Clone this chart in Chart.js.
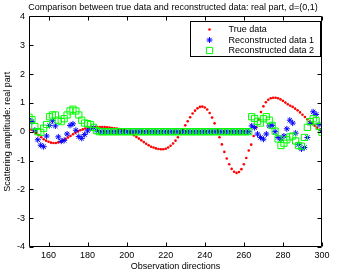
<!DOCTYPE html>
<html><head><meta charset="utf-8">
<script src="https://cdn.jsdelivr.net/npm/chart.js@4/dist/chart.umd.min.js"></script>
<style>html,body{margin:0;padding:0;background:#fff;}</style>
</head><body>
<canvas id="c" width="346" height="275"></canvas>
<script>
// ---- data ----
const titleText = 'Comparison between true data and reconstructed data: real part, d=(0,1)';
const xLabel = 'Observation directions';
const yLabel = 'Scattering amplitude: real part';
const seriesNames = ['True data', 'Reconstructed data 1', 'Reconstructed data 2'];
const xTicks = [160, 180, 200, 220, 240, 260, 280, 300];
const yTicks = [-4, -3, -2, -1, 0, 1, 2, 3, 4];

// true data: directions 150..300 step 1.25
const trueStart = 150, trueStep = 1.25;
const trueData = [
 0.12, 0.07, 0.01, -0.05, -0.12, -0.19, -0.26, -0.31, -0.35, -0.38,
 -0.39, -0.39, -0.37, -0.34, -0.30, -0.25, -0.20, -0.15, -0.09, -0.04,
 0.01, 0.05, 0.08, 0.11, 0.13, 0.14, 0.15, 0.16, 0.16, 0.16,
 0.16, 0.16, 0.15, 0.14, 0.13, 0.12, 0.11, 0.09, 0.07, 0.05,
 0.02, -0.02, -0.07, -0.12, -0.18, -0.24, -0.30, -0.36, -0.42, -0.47,
 -0.52, -0.55, -0.58, -0.60, -0.61, -0.61, -0.59, -0.55, -0.49, -0.41,
 -0.31, -0.19, -0.06, 0.08, 0.22, 0.36, 0.50, 0.63, 0.73, 0.81,
 0.86, 0.87, 0.84, 0.77, 0.65, 0.49, 0.29, 0.06, -0.19, -0.44,
 -0.70, -0.93, -1.13, -1.29, -1.39, -1.43, -1.40, -1.30, -1.13, -0.91,
 -0.65, -0.45, -0.15, 0.15, 0.42, 0.68, 0.88, 1.02, 1.11, 1.16,
 1.18, 1.18, 1.16, 1.12, 1.07, 1.01, 0.95, 0.90, 0.86, 0.80,
 0.74, 0.67, 0.59, 0.51, 0.43, 0.35, 0.28, 0.21, 0.14, 0.07,
 0.01
];

// reconstructed data: directions 150..300 step 1.5
const recStart = 150, recStep = 1.5;
const recon1 = [
 0.40, 0.35, 0.05, -0.28, -0.47, -0.52, -0.15, 0.22, 0.38, 0.20,
 -0.18, -0.33, -0.30, -0.08, 0.22, 0.27, 0.05, -0.17, -0.23, -0.10,
 0.03, 0.12, 0.14, 0.05, 0, 0, 0, 0, 0, 0,
 0, 0, 0, 0, 0, 0, 0, 0, 0, 0,
 0, 0, 0, 0, 0, 0, 0, 0, 0, 0,
 0, 0, 0, 0, 0, 0, 0, 0, 0, 0,
 0, 0, 0, 0, 0, 0, 0, 0, 0, 0,
 0, 0, 0, 0, 0, 0, 0.20, 0.14, -0.08, -0.20,
 -0.26, -0.08, 0.20, 0.22, 0.00, -0.20, -0.26, -0.15, 0.10, 0.40,
 0.30, -0.05, -0.45, -0.60, -0.55, -0.20, 0.29, 0.69, 0.60, 0.25,
 0.05
];
const recon2 = [
 0.50, 0.42, 0.18, 0.00, -0.02, 0.12, 0.25, 0.52, 0.58, 0.58,
 0.40, 0.35, 0.45, 0.58, 0.72, 0.78, 0.72, 0.58, 0.40, 0.30,
 0.28, 0.25, 0.15, 0.04, 0, 0, 0, 0, 0, 0,
 0, 0, 0, 0, 0, 0, 0, 0, 0, 0,
 0, 0, 0, 0, 0, 0, 0, 0, 0, 0,
 0, 0, 0, 0, 0, 0, 0, 0, 0, 0,
 0, 0, 0, 0, 0, 0, 0, 0, 0, 0,
 0, 0, 0, 0, 0, 0, 0.52, 0.46, 0.36, 0.30,
 0.45, 0.52, 0.40, 0.22, 0.02, -0.25, -0.48, -0.40, -0.28, -0.18,
 -0.15, -0.32, -0.48, -0.50, -0.20, 0.15, 0.35, 0.45, 0.38, 0.18,
 -0.02
];

// ---- build ----
const toPts = (arr, start, step) => arr.map((v, i) => ({ x: start + i * step, y: v }));
const FONT = 'Liberation Sans, Arial, Helvetica, sans-serif';
const f9 = { family: FONT, size: 9 };

const styles = [
  { pointStyle: 'circle', radius: 1.3, borderWidth: 0, borderColor: '#ff0000', backgroundColor: '#ff0000' },
  { pointStyle: 'star', radius: 3, borderWidth: 1, borderColor: '#0000ff', backgroundColor: '#0000ff' },
  { pointStyle: 'rect', radius: 4.4, borderWidth: 1, borderColor: '#00ff00', backgroundColor: 'rgba(0,0,0,0)' }
];

const frame = {
  id: 'frame',
  afterDatasetsDraw(chart) {
    const ctx = chart.ctx, a = chart.chartArea;
    const xs = chart.scales.x, ys = chart.scales.y;
    const L = Math.round(a.left) + 0.5, R = Math.round(a.right) - 0.5;
    const T = Math.round(a.top) + 0.5, B = Math.round(a.bottom) - 0.5;
    ctx.save();
    ctx.strokeStyle = '#000'; ctx.lineWidth = 1;
    ctx.beginPath();
    ctx.rect(L, T, R - L, B - T);
    const tl = 4;
    xTicks.forEach(v => {
      const px = Math.round(xs.getPixelForValue(v)) + 0.5;
      ctx.moveTo(px, B); ctx.lineTo(px, B - tl);
      ctx.moveTo(px, T); ctx.lineTo(px, T + tl);
    });
    yTicks.forEach(v => {
      const py = Math.round(ys.getPixelForValue(v)) + 0.5;
      ctx.moveTo(L, py); ctx.lineTo(L + tl, py);
      ctx.moveTo(R, py); ctx.lineTo(R - tl, py);
    });
    ctx.stroke();
    ctx.restore();
  },
  afterDraw(chart) {
    const ctx = chart.ctx, a = chart.chartArea;
    const bw = 130, bh = 35;
    const bx = Math.round(a.right) - 2 - bw + 0.5, by = Math.round(a.top) + 5 + 0.5;
    ctx.save();
    ctx.fillStyle = '#fff';
    ctx.fillRect(bx, by, bw, bh);
    ctx.strokeStyle = '#000'; ctx.lineWidth = 1;
    ctx.strokeRect(bx, by, bw, bh);
    ctx.font = '9px ' + FONT;
    ctx.textBaseline = 'middle';
    ctx.textAlign = 'left';
    seriesNames.forEach((name, i) => {
      const yy = by + 8 + i * 10.5;
      const s = styles[i];
      ctx.fillStyle = s.backgroundColor; ctx.strokeStyle = s.borderColor; ctx.lineWidth = s.borderWidth;
      Chart.helpers.drawPoint(ctx, { pointStyle: s.pointStyle, radius: s.radius, borderWidth: s.borderWidth, rotation: 0 }, bx + 19, yy);
      ctx.fillStyle = '#000';
      ctx.fillText(name, bx + 38, yy + 0.5);
    });
    ctx.restore();
  }
};

new Chart(document.getElementById('c'), {
  type: 'scatter',
  data: {
    datasets: [
      { label: seriesNames[0], data: toPts(trueData, trueStart, trueStep), order: 3,
        pointStyle: styles[0].pointStyle, pointRadius: styles[0].radius, pointBorderWidth: 0,
        borderColor: styles[0].borderColor, backgroundColor: styles[0].backgroundColor },
      { label: seriesNames[1], data: toPts(recon1, recStart, recStep), order: 2,
        pointStyle: styles[1].pointStyle, pointRadius: styles[1].radius, pointBorderWidth: 1,
        borderColor: styles[1].borderColor, backgroundColor: styles[1].backgroundColor },
      { label: seriesNames[2], data: toPts(recon2, recStart, recStep), order: 1,
        pointStyle: styles[2].pointStyle, pointRadius: styles[2].radius, pointBorderWidth: 1,
        borderColor: styles[2].borderColor, backgroundColor: styles[2].backgroundColor }
    ]
  },
  options: {
    responsive: false, animation: false, devicePixelRatio: 1,
    layout: { padding: 0 },
    elements: { point: { hoverRadius: 0 } },
    plugins: {
      legend: { display: false },
      tooltip: { enabled: false },
      title: { display: true, text: titleText, color: '#000', font: { family: FONT, size: 9, weight: 'normal' },
               padding: { top: 2, bottom: 3.6 } }
    },
    scales: {
      x: {
        type: 'linear', min: 150, max: 300,
        afterBuildTicks: s => { s.ticks = xTicks.map(v => ({ value: v })); },
        afterFit: s => { s.height = 28; },
        grid: { display: false, drawTicks: false },
        border: { display: false },
        ticks: { autoSkip: false, maxRotation: 0, padding: 3, color: '#000', font: f9 },
        title: { display: true, text: xLabel, color: '#000', font: f9, padding: { top: 0, bottom: 3 } }
      },
      y: {
        type: 'linear', min: -4, max: 4,
        afterBuildTicks: s => { s.ticks = yTicks.map(v => ({ value: v })); },
        afterFit: s => { s.width = 29; },
        grid: { display: false, drawTicks: false },
        border: { display: false },
        ticks: { autoSkip: false, padding: 4, color: '#000', font: f9 },
        title: { display: true, text: yLabel, color: '#000', font: f9, padding: { top: 2, bottom: 0 } }
      },
      yr: {
        type: 'linear', position: 'right', min: -4, max: 4,
        afterFit: s => { s.width = 24; },
        grid: { display: false, drawTicks: false },
        border: { display: false },
        ticks: { display: false }
      }
    }
  },
  plugins: [frame]
});
</script>
</body></html>
